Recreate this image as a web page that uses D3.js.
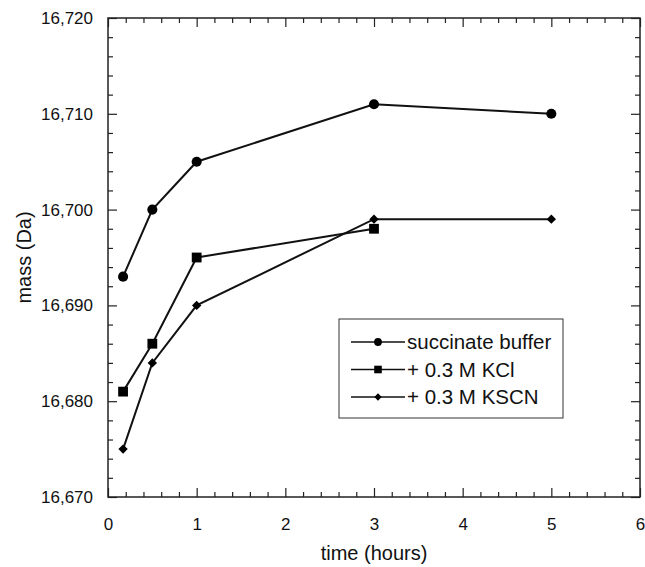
<!DOCTYPE html>
<html>
<head>
<meta charset="utf-8">
<script src="https://cdn.jsdelivr.net/npm/d3@7"></script>
<style>
  body { margin: 0; background: #fff; }
  text { font-family: "Liberation Sans", Arial, sans-serif; fill: #111; }
</style>
</head>
<body>
<div id="chart"></div>
<script>
// values
const times = [0.17, 0.5, 1, 3, 5];
const succinate = [16693, 16700, 16705, 16711, 16710];
const kclTimes = [0.17, 0.5, 1, 3];
const kcl = [16681, 16686, 16695, 16698];
const kscn = [16675, 16684, 16690, 16699, 16699];
const seriesNames = ["succinate buffer", "+ 0.3 M KCl", "+ 0.3 M KSCN"];
const xTicks = [0, 1, 2, 3, 4, 5, 6];
const yTicks = [16670, 16680, 16690, 16700, 16710, 16720];

const width = 645, height = 567;
const margin = { top: 18, right: 5, bottom: 70, left: 108 };
const w = width - margin.left - margin.right;
const h = height - margin.top - margin.bottom;

const svg = d3.select("#chart").append("svg")
    .attr("width", width)
    .attr("height", height);
const g = svg.append("g").attr("transform", `translate(${margin.left},${margin.top})`);

const x = d3.scaleLinear().domain([0, 6]).range([0, w]);
const y = d3.scaleLinear().domain([16670, 16720]).range([h, 0]);

const xMinor = d3.range(0, 6.001, 0.2).filter(v => Math.abs(v - Math.round(v)) > 1e-6);
const yMinor = d3.range(16670, 16720.001, 2).filter(v => v % 10 !== 0);

function styleAxis(sel) {
    sel.select(".domain").remove();
    sel.selectAll("line").attr("stroke", "#222").attr("stroke-width", 1.2);
}

// bottom axis with labels
g.append("g").attr("transform", `translate(0,${h})`)
    .call(d3.axisBottom(x).tickValues(xTicks).tickSize(-9).tickPadding(21).tickFormat(d3.format("d")))
    .call(styleAxis)
    .selectAll("text").attr("font-size", 17).attr("fill", "#111");
g.append("g").attr("transform", `translate(0,${h})`)
    .call(d3.axisBottom(x).tickValues(xMinor).tickSize(-5).tickFormat(""))
    .call(styleAxis);
// top axis, ticks only
g.append("g")
    .call(d3.axisTop(x).tickValues(xTicks).tickSize(-9).tickFormat(""))
    .call(styleAxis);
g.append("g")
    .call(d3.axisTop(x).tickValues(xMinor).tickSize(-5).tickFormat(""))
    .call(styleAxis);

// left axis with labels
g.append("g")
    .call(d3.axisLeft(y).tickValues(yTicks).tickSize(-9).tickPadding(15).tickFormat(d3.format(",")))
    .call(styleAxis)
    .selectAll("text").attr("font-size", 17).attr("fill", "#111");
g.append("g")
    .call(d3.axisLeft(y).tickValues(yMinor).tickSize(-5).tickFormat(""))
    .call(styleAxis);
// right axis, ticks only
g.append("g").attr("transform", `translate(${w},0)`)
    .call(d3.axisRight(y).tickValues(yTicks).tickSize(-9).tickFormat(""))
    .call(styleAxis);
g.append("g").attr("transform", `translate(${w},0)`)
    .call(d3.axisRight(y).tickValues(yMinor).tickSize(-5).tickFormat(""))
    .call(styleAxis);

// frame
g.append("rect")
    .attr("width", w).attr("height", h)
    .attr("fill", "none").attr("stroke", "#222").attr("stroke-width", 1.5);

// axis titles
svg.append("text")
    .attr("x", margin.left + w / 2)
    .attr("y", 560)
    .attr("text-anchor", "middle")
    .attr("font-size", 20)
    .text("time (hours)");
svg.append("text")
    .attr("transform", `translate(31,${margin.top + h / 2}) rotate(-90)`)
    .attr("text-anchor", "middle")
    .attr("font-size", 20)
    .text("mass (Da)");

const series = [
    { name: seriesNames[0], xs: times, ys: succinate, symbol: d3.symbolCircle, size: 80, rot: 0 },
    { name: seriesNames[1], xs: kclTimes, ys: kcl, symbol: d3.symbolSquare, size: 96, rot: 0 },
    { name: seriesNames[2], xs: times, ys: kscn, symbol: d3.symbolSquare, size: 44, rot: 45 }
];

const line = d3.line().x(d => x(d[0])).y(d => y(d[1]));

series.forEach(s => {
    const pts = s.xs.map((t, i) => [t, s.ys[i]]);
    g.append("path")
        .datum(pts)
        .attr("fill", "none")
        .attr("stroke", "#111")
        .attr("stroke-width", 2)
        .attr("d", line);
    g.selectAll(null)
        .data(pts)
        .enter()
        .append("path")
        .attr("d", d3.symbol().type(s.symbol).size(s.size))
        .attr("transform", d => `translate(${x(d[0])},${y(d[1])}) rotate(${s.rot})`)
        .attr("fill", "#000");
});

// legend
const legend = svg.append("g").attr("transform", "translate(339,319)");
legend.append("rect")
    .attr("width", 224).attr("height", 99)
    .attr("fill", "#fff").attr("stroke", "#333").attr("stroke-width", 1);
const items = legend.selectAll(".legend-item")
    .data(series)
    .enter()
    .append("g")
    .attr("class", "legend-item")
    .attr("transform", (d, i) => `translate(0,${23 + i * 27.5})`);
items.append("line")
    .attr("x1", 12).attr("x2", 66)
    .attr("stroke", "#111").attr("stroke-width", 1.5);
items.append("path")
    .attr("d", d => d3.symbol().type(d.symbol).size(d.size * 0.6)())
    .attr("transform", d => `translate(39,0) rotate(${d.rot})`)
    .attr("fill", "#000");
items.append("text")
    .attr("x", 68)
    .attr("y", 7)
    .attr("font-size", 20.5)
    .text(d => d.name);
</script>
</body>
</html>
